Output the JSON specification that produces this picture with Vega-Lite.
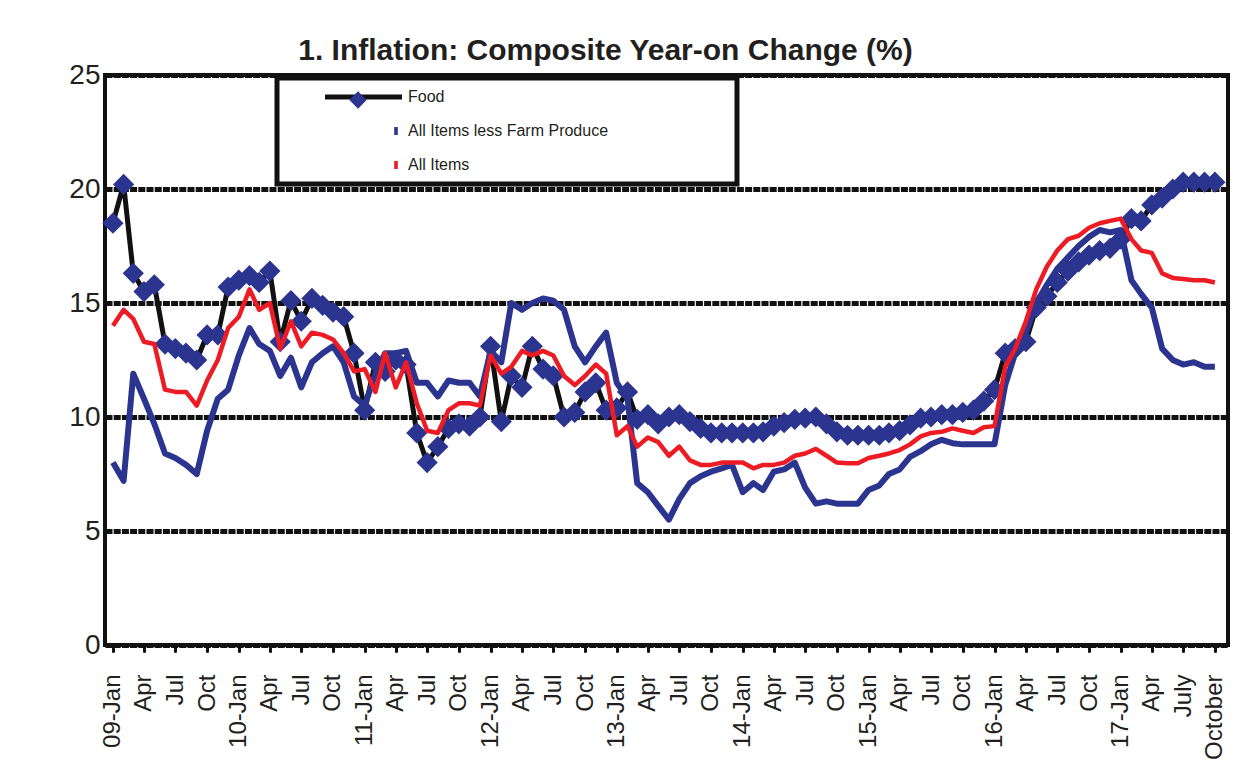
{
  "$schema": "https://vega.github.io/schema/vega-lite/v6.json",
  "width": 1123,
  "height": 570,
  "autosize": {"type": "none"},
  "padding": {"left": 105, "top": 75, "right": 19, "bottom": 137},
  "background": "white",
  "title": {
    "text": "1. Inflation: Composite Year-on Change (%)",
    "font": "Liberation Sans",
    "fontSize": 30,
    "fontWeight": "bold",
    "color": "#231f20",
    "anchor": "middle",
    "frame": "group",
    "baseline": "alphabetic",
    "dx": -61,
    "dy": 43,
    "offset": 14
  },
  "data": {
    "values": [
      {"m": "2009-01-01", "Food": 18.5, "Less": 8.0, "All": 14.0},
      {"m": "2009-02-01", "Food": 20.2, "Less": 7.2, "All": 14.7},
      {"m": "2009-03-01", "Food": 16.3, "Less": 11.9, "All": 14.3},
      {"m": "2009-04-01", "Food": 15.5, "Less": 10.8, "All": 13.3},
      {"m": "2009-05-01", "Food": 15.8, "Less": 9.7, "All": 13.2},
      {"m": "2009-06-01", "Food": 13.2, "Less": 8.4, "All": 11.2},
      {"m": "2009-07-01", "Food": 13.0, "Less": 8.2, "All": 11.1},
      {"m": "2009-08-01", "Food": 12.8, "Less": 7.9, "All": 11.1},
      {"m": "2009-09-01", "Food": 12.5, "Less": 7.5, "All": 10.5},
      {"m": "2009-10-01", "Food": 13.6, "Less": 9.4, "All": 11.6},
      {"m": "2009-11-01", "Food": 13.6, "Less": 10.8, "All": 12.5},
      {"m": "2009-12-01", "Food": 15.7, "Less": 11.2, "All": 13.9},
      {"m": "2010-01-01", "Food": 16.0, "Less": 12.7, "All": 14.4},
      {"m": "2010-02-01", "Food": 16.2, "Less": 13.9, "All": 15.6},
      {"m": "2010-03-01", "Food": 15.9, "Less": 13.2, "All": 14.7},
      {"m": "2010-04-01", "Food": 16.4, "Less": 12.9, "All": 15.0},
      {"m": "2010-05-01", "Food": 13.3, "Less": 11.8, "All": 13.0},
      {"m": "2010-06-01", "Food": 15.1, "Less": 12.6, "All": 14.2},
      {"m": "2010-07-01", "Food": 14.2, "Less": 11.3, "All": 13.1},
      {"m": "2010-08-01", "Food": 15.2, "Less": 12.4, "All": 13.7},
      {"m": "2010-09-01", "Food": 14.9, "Less": 12.8, "All": 13.6},
      {"m": "2010-10-01", "Food": 14.6, "Less": 13.1, "All": 13.4},
      {"m": "2010-11-01", "Food": 14.4, "Less": 12.4, "All": 12.8},
      {"m": "2010-12-01", "Food": 12.8, "Less": 10.9, "All": 12.0},
      {"m": "2011-01-01", "Food": 10.3, "Less": 10.5, "All": 12.1},
      {"m": "2011-02-01", "Food": 12.4, "Less": 11.9, "All": 11.1},
      {"m": "2011-03-01", "Food": 12.0, "Less": 12.8, "All": 12.8},
      {"m": "2011-04-01", "Food": 12.5, "Less": 12.8, "All": 11.3},
      {"m": "2011-05-01", "Food": 12.3, "Less": 12.9, "All": 12.4},
      {"m": "2011-06-01", "Food": 9.3, "Less": 11.5, "All": 10.6},
      {"m": "2011-07-01", "Food": 8.0, "Less": 11.5, "All": 9.4},
      {"m": "2011-08-01", "Food": 8.7, "Less": 10.9, "All": 9.3},
      {"m": "2011-09-01", "Food": 9.5, "Less": 11.6, "All": 10.3},
      {"m": "2011-10-01", "Food": 9.7, "Less": 11.5, "All": 10.6},
      {"m": "2011-11-01", "Food": 9.6, "Less": 11.5, "All": 10.6},
      {"m": "2011-12-01", "Food": 10.0, "Less": 10.9, "All": 10.5},
      {"m": "2012-01-01", "Food": 13.1, "Less": 12.9, "All": 12.7},
      {"m": "2012-02-01", "Food": 9.8, "Less": 12.4, "All": 11.9},
      {"m": "2012-03-01", "Food": 11.8, "Less": 15.0, "All": 12.2},
      {"m": "2012-04-01", "Food": 11.3, "Less": 14.7, "All": 12.9},
      {"m": "2012-05-01", "Food": 13.1, "Less": 15.0, "All": 12.7},
      {"m": "2012-06-01", "Food": 12.1, "Less": 15.2, "All": 12.9},
      {"m": "2012-07-01", "Food": 11.8, "Less": 15.1, "All": 12.7},
      {"m": "2012-08-01", "Food": 10.0, "Less": 14.7, "All": 11.8},
      {"m": "2012-09-01", "Food": 10.2, "Less": 13.1, "All": 11.4},
      {"m": "2012-10-01", "Food": 11.1, "Less": 12.4, "All": 11.8},
      {"m": "2012-11-01", "Food": 11.5, "Less": 13.1, "All": 12.3},
      {"m": "2012-12-01", "Food": 10.3, "Less": 13.7, "All": 11.9},
      {"m": "2013-01-01", "Food": 10.4, "Less": 11.5, "All": 9.2},
      {"m": "2013-02-01", "Food": 11.1, "Less": 10.8, "All": 9.6},
      {"m": "2013-03-01", "Food": 9.9, "Less": 7.1, "All": 8.7},
      {"m": "2013-04-01", "Food": 10.1, "Less": 6.7, "All": 9.1},
      {"m": "2013-05-01", "Food": 9.7, "Less": 6.1, "All": 8.9},
      {"m": "2013-06-01", "Food": 10.0, "Less": 5.5, "All": 8.3},
      {"m": "2013-07-01", "Food": 10.1, "Less": 6.4, "All": 8.7},
      {"m": "2013-08-01", "Food": 9.8, "Less": 7.1, "All": 8.1},
      {"m": "2013-09-01", "Food": 9.5, "Less": 7.4, "All": 7.9},
      {"m": "2013-10-01", "Food": 9.3, "Less": 7.6, "All": 7.9},
      {"m": "2013-11-01", "Food": 9.3, "Less": 7.75, "All": 8.0},
      {"m": "2013-12-01", "Food": 9.3, "Less": 7.9, "All": 8.0},
      {"m": "2014-01-01", "Food": 9.3, "Less": 6.7, "All": 8.0},
      {"m": "2014-02-01", "Food": 9.3, "Less": 7.1, "All": 7.75},
      {"m": "2014-03-01", "Food": 9.35, "Less": 6.8, "All": 7.9},
      {"m": "2014-04-01", "Food": 9.6, "Less": 7.6, "All": 7.9},
      {"m": "2014-05-01", "Food": 9.75, "Less": 7.7, "All": 8.0},
      {"m": "2014-06-01", "Food": 9.9, "Less": 8.0, "All": 8.3},
      {"m": "2014-07-01", "Food": 9.95, "Less": 6.9, "All": 8.4},
      {"m": "2014-08-01", "Food": 10.0, "Less": 6.2, "All": 8.6},
      {"m": "2014-09-01", "Food": 9.7, "Less": 6.3, "All": 8.3},
      {"m": "2014-10-01", "Food": 9.35, "Less": 6.2, "All": 8.0},
      {"m": "2014-11-01", "Food": 9.2, "Less": 6.2, "All": 7.97},
      {"m": "2014-12-01", "Food": 9.2, "Less": 6.2, "All": 7.97},
      {"m": "2015-01-01", "Food": 9.2, "Less": 6.8, "All": 8.2},
      {"m": "2015-02-01", "Food": 9.2, "Less": 7.0, "All": 8.3},
      {"m": "2015-03-01", "Food": 9.3, "Less": 7.5, "All": 8.4},
      {"m": "2015-04-01", "Food": 9.4, "Less": 7.7, "All": 8.55},
      {"m": "2015-05-01", "Food": 9.65, "Less": 8.25, "All": 8.8},
      {"m": "2015-06-01", "Food": 9.95, "Less": 8.5, "All": 9.15},
      {"m": "2015-07-01", "Food": 10.0, "Less": 8.8, "All": 9.3},
      {"m": "2015-08-01", "Food": 10.1, "Less": 9.0, "All": 9.35},
      {"m": "2015-09-01", "Food": 10.1, "Less": 8.85, "All": 9.5},
      {"m": "2015-10-01", "Food": 10.2, "Less": 8.8, "All": 9.4},
      {"m": "2015-11-01", "Food": 10.3, "Less": 8.8, "All": 9.3},
      {"m": "2015-12-01", "Food": 10.7, "Less": 8.8, "All": 9.55},
      {"m": "2016-01-01", "Food": 11.2, "Less": 8.8, "All": 9.6},
      {"m": "2016-02-01", "Food": 12.8, "Less": 11.4, "All": 12.2},
      {"m": "2016-03-01", "Food": 13.0, "Less": 12.8, "All": 13.0},
      {"m": "2016-04-01", "Food": 13.3, "Less": 13.7, "All": 14.2},
      {"m": "2016-05-01", "Food": 14.8, "Less": 15.0, "All": 15.6},
      {"m": "2016-06-01", "Food": 15.3, "Less": 15.8, "All": 16.6},
      {"m": "2016-07-01", "Food": 15.9, "Less": 16.5, "All": 17.3},
      {"m": "2016-08-01", "Food": 16.4, "Less": 17.0, "All": 17.8},
      {"m": "2016-09-01", "Food": 16.8, "Less": 17.5, "All": 17.95},
      {"m": "2016-10-01", "Food": 17.1, "Less": 17.9, "All": 18.3},
      {"m": "2016-11-01", "Food": 17.3, "Less": 18.2, "All": 18.5},
      {"m": "2016-12-01", "Food": 17.4, "Less": 18.1, "All": 18.6},
      {"m": "2017-01-01", "Food": 17.8, "Less": 18.2, "All": 18.7},
      {"m": "2017-02-01", "Food": 18.7, "Less": 16.0, "All": 17.8},
      {"m": "2017-03-01", "Food": 18.6, "Less": 15.4, "All": 17.3},
      {"m": "2017-04-01", "Food": 19.3, "Less": 14.8, "All": 17.2},
      {"m": "2017-05-01", "Food": 19.6, "Less": 13.0, "All": 16.3},
      {"m": "2017-06-01", "Food": 20.0, "Less": 12.5, "All": 16.1},
      {"m": "2017-07-01", "Food": 20.3, "Less": 12.3, "All": 16.05},
      {"m": "2017-08-01", "Food": 20.3, "Less": 12.4, "All": 16.0},
      {"m": "2017-09-01", "Food": 20.3, "Less": 12.2, "All": 16.0},
      {"m": "2017-10-01", "Food": 20.3, "Less": 12.2, "All": 15.9}
    ]
  },
  "encoding": {
    "x": {
      "field": "m",
      "type": "temporal",
      "title": null,
      "scale": {
        "type": "utc",
        "domain": [
          {"year": 2008, "month": 12, "date": 9, "utc": true},
          {"year": 2017, "month": 11, "date": 8, "utc": true}
        ]
      },
      "axis": {
        "tickCount": {"interval": "month", "step": 3},
        "labelExpr": "utcmonth(datum.value) == 0 ? utcFormat(datum.value, '%y') + '-Jan' : (utcyear(datum.value) == 2017 && utcmonth(datum.value) == 6 ? 'July' : (utcyear(datum.value) == 2017 && utcmonth(datum.value) == 9 ? 'October' : utcFormat(datum.value, '%b')))",
        "labelAngle": -90,
        "labelAlign": "right",
        "labelBaseline": "middle",
        "labelFont": "Liberation Sans",
        "labelFontSize": 24,
        "labelColor": "#231f20",
        "labelPadding": 23,
        "labelOverlap": false,
        "labelFlush": false,
        "ticks": true,
        "tickSize": 6,
        "tickWidth": 3,
        "tickColor": "#111111",
        "tickCap": "round",
        "domain": false,
        "grid": false
      }
    }
  },
  "layer": [
    {
      "mark": {"type": "line", "strokeWidth": 5, "strokeJoin": "round"},
      "encoding": {
        "y": {
          "field": "Food",
          "type": "quantitative",
          "title": null,
          "scale": {"domain": [0, 25], "nice": false, "zero": true},
          "axis": {
            "values": [0, 5, 10, 15, 20, 25],
            "labelFont": "Liberation Sans",
            "labelFontSize": 28,
            "labelColor": "#231f20",
            "labelPadding": 5,
            "ticks": false,
            "domain": false,
            "grid": true,
            "gridColor": "#111111",
            "gridWidth": 5,
            "gridDash": [7, 1.2],
            "gridOpacity": 1
          }
        },
        "color": {
          "datum": "Food",
          "type": "nominal",
          "scale": {
            "domain": ["Food", "All Items less Farm Produce", "All Items"],
            "range": ["#111111", "#2B3590", "#ED1C24"]
          },
          "legend": {
            "orient": "none",
            "legendX": 172,
            "legendY": 3,
            "title": "\u00a0",
            "titleOrient": "right",
            "titlePadding": 118,
            "titleFontSize": 4,
            "fillColor": "white",
            "strokeColor": "#111111",
            "padding": 11,
            "rowPadding": 18,
            "symbolOffset": 100,
            "symbolSize": 64,
            "labelOffset": 4,
            "labelFont": "Liberation Sans",
            "labelFontSize": 16,
            "labelColor": "#231f20",
            "labelLimit": 400,
            "encode": {
              "legend": {"update": {"strokeWidth": {"value": 5}}},
              "symbols": {
                "update": {
                  "shape": {"signal": "datum.value === 'Food' ? 'M-17.75,-0.6L1.5,-0.6L1.5,0.6L-17.75,0.6Z' : 'M-0.45,-1L0.45,-1L0.45,1L-0.45,1Z'"},
                  "fill": {"signal": "scale('color', datum.value)"},
                  "strokeWidth": {"value": 0}
                }
              }
            }
          }
        }
      }
    },
    {
      "transform": [{"fold": ["Food"], "as": ["s2", "v2"]}],
      "mark": {"type": "point", "filled": true, "color": "#2B3590", "opacity": 1, "size": 450},
      "encoding": {
        "y": {"field": "v2", "type": "quantitative", "title": null},
        "shape": {
          "field": "s2",
          "type": "nominal",
          "scale": {"range": ["diamond"]},
          "legend": {
            "orient": "none",
            "legendX": 244,
            "legendY": 16,
            "title": null,
            "padding": 0,
            "symbolSize": 300,
            "symbolFillColor": "#2B3590",
            "symbolStrokeWidth": 0,
            "labelExpr": "''",
            "labelFontSize": 1,
            "encode": {"symbols": {"update": {"fill": {"value": "#2B3590"}, "strokeWidth": {"value": 0}, "opacity": {"value": 1}}}}
          }
        }
      }
    },
    {
      "mark": {"type": "line", "strokeWidth": 6, "strokeJoin": "round"},
      "encoding": {
        "y": {"field": "Less", "type": "quantitative", "title": null},
        "color": {"datum": "All Items less Farm Produce", "type": "nominal"}
      }
    },
    {
      "mark": {"type": "line", "strokeWidth": 4.5, "strokeJoin": "round"},
      "encoding": {
        "y": {"field": "All", "type": "quantitative", "title": null},
        "color": {"datum": "All Items", "type": "nominal"}
      }
    }
  ],
  "config": {
    "view": {"stroke": "#111111", "strokeWidth": 4, "fill": "white"}
  }
}
